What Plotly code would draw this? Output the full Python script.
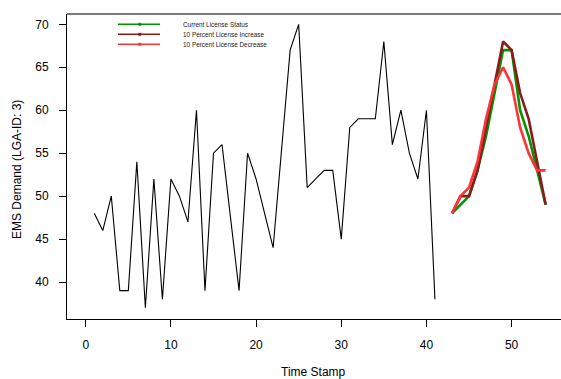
import plotly.graph_objects as go

# ---- data ----
time_obs = list(range(1, 42))
demand_obs = [48, 46, 50, 39, 39, 54, 37, 52, 38, 52, 50, 47, 60, 39, 55, 56, 47.5, 39,
              55, 52, 48, 44, 55.5, 67, 70, 51, 52, 53, 53, 45, 58, 59, 59, 59, 68, 56,
              60, 55, 52, 60, 38]
time_fc = list(range(43, 55))
current_status = [48, 49, 50, 53, 57, 62, 67, 67, 60, 57, 53, 49]
pct10_increase = [48, 50, 50, 53, 58, 63, 68, 67, 62, 59, 54, 49]
pct10_decrease = [48, 50, 51, 54, 59, 63, 65, 63, 58, 55, 53, 53]
series_names = ["Current License Status", "10 Percent License Increase", "10 Percent License Decrease"]
series_colors = ["#009400", "#8B1A1A", "#FF3333"]
x_ticks = [0, 10, 20, 30, 40, 50]
y_ticks = [40, 45, 50, 55, 60, 65, 70]

W, H = 561, 379
ML, MR, MT, MB = 67, 0, 14, 60
PW, PH = W - ML - MR, H - MT - MB

def px(xp):
    return (xp - ML) / PW

def py(yp):
    return (H - MB - yp) / PH

FONT = "Liberation Sans, Arial, Helvetica, sans-serif"

fig = go.Figure()
fig.add_trace(go.Scatter(x=time_obs, y=demand_obs, mode="lines",
                         line=dict(color="black", width=1.1), showlegend=False))
for vals, name, col in zip([current_status, pct10_increase, pct10_decrease], series_names, series_colors):
    fig.add_trace(go.Scatter(x=time_fc, y=vals, mode="lines", name=name,
                             line=dict(color=col, width=2.6), showlegend=False))

shapes = []
annotations = []
# top gray border
shapes.append(dict(type="line", xref="paper", yref="paper", x0=0, x1=1, y0=1, y1=1,
                   line=dict(color="#7a7a7a", width=2)))
# custom legend
for i, (name, col) in enumerate(zip(series_names, series_colors)):
    yy = 24.3 + 10 * i
    shapes.append(dict(type="line", xref="paper", yref="paper", x0=px(118), x1=px(160),
                       y0=py(yy), y1=py(yy), line=dict(color=col, width=1.5)))
    shapes.append(dict(type="rect", xref="paper", yref="paper", x0=px(138.3), x1=px(141.3),
                       y0=py(yy + 1.5), y1=py(yy - 1.5), fillcolor=col, line=dict(width=0)))
    annotations.append(dict(text=name, xref="paper", yref="paper", x=px(181), y=py(yy),
                            xanchor="left", yanchor="middle", showarrow=False,
                            font=dict(size=6.4, color="#222", family=FONT)))
# axis titles
annotations.append(dict(text="Time Stamp", xref="paper", yref="paper", x=px(313), y=0,
                        yshift=-53, xanchor="center", yanchor="middle", showarrow=False,
                        font=dict(size=12, color="black", family=FONT)))
annotations.append(dict(text="EMS Demand (LGA-ID: 3)", xref="paper", yref="paper", x=0, y=py(170),
                        xshift=-50, xanchor="center", yanchor="middle", textangle=-90, showarrow=False,
                        font=dict(size=12, color="black", family=FONT)))

fig.update_layout(
    width=W, height=H,
    margin=dict(l=ML, r=MR, t=MT, b=MB, pad=0),
    paper_bgcolor="white", plot_bgcolor="white",
    font=dict(family=FONT, size=12, color="black"),
    shapes=shapes, annotations=annotations, showlegend=False,
    xaxis=dict(range=[-2.2, 55.8], tickvals=x_ticks, ticks="outside", ticklen=7, tickwidth=1,
               tickcolor="black", showline=True, linecolor="black", linewidth=1,
               showgrid=False, zeroline=False, ticklabelstandoff=8,
               tickfont=dict(size=12, color="black", family=FONT)),
    yaxis=dict(range=[35.7, 71.2], tickvals=y_ticks, ticks="outside", ticklen=7, tickwidth=1,
               tickcolor="black", showline=True, linecolor="black", linewidth=1,
               showgrid=False, zeroline=False, ticklabelstandoff=8,
               tickfont=dict(size=12, color="black", family=FONT)),
)

fig.write_html("out.html", config={"displayModeBar": False},
               post_script="document.body.style.margin='0';document.body.style.overflow='hidden';")
